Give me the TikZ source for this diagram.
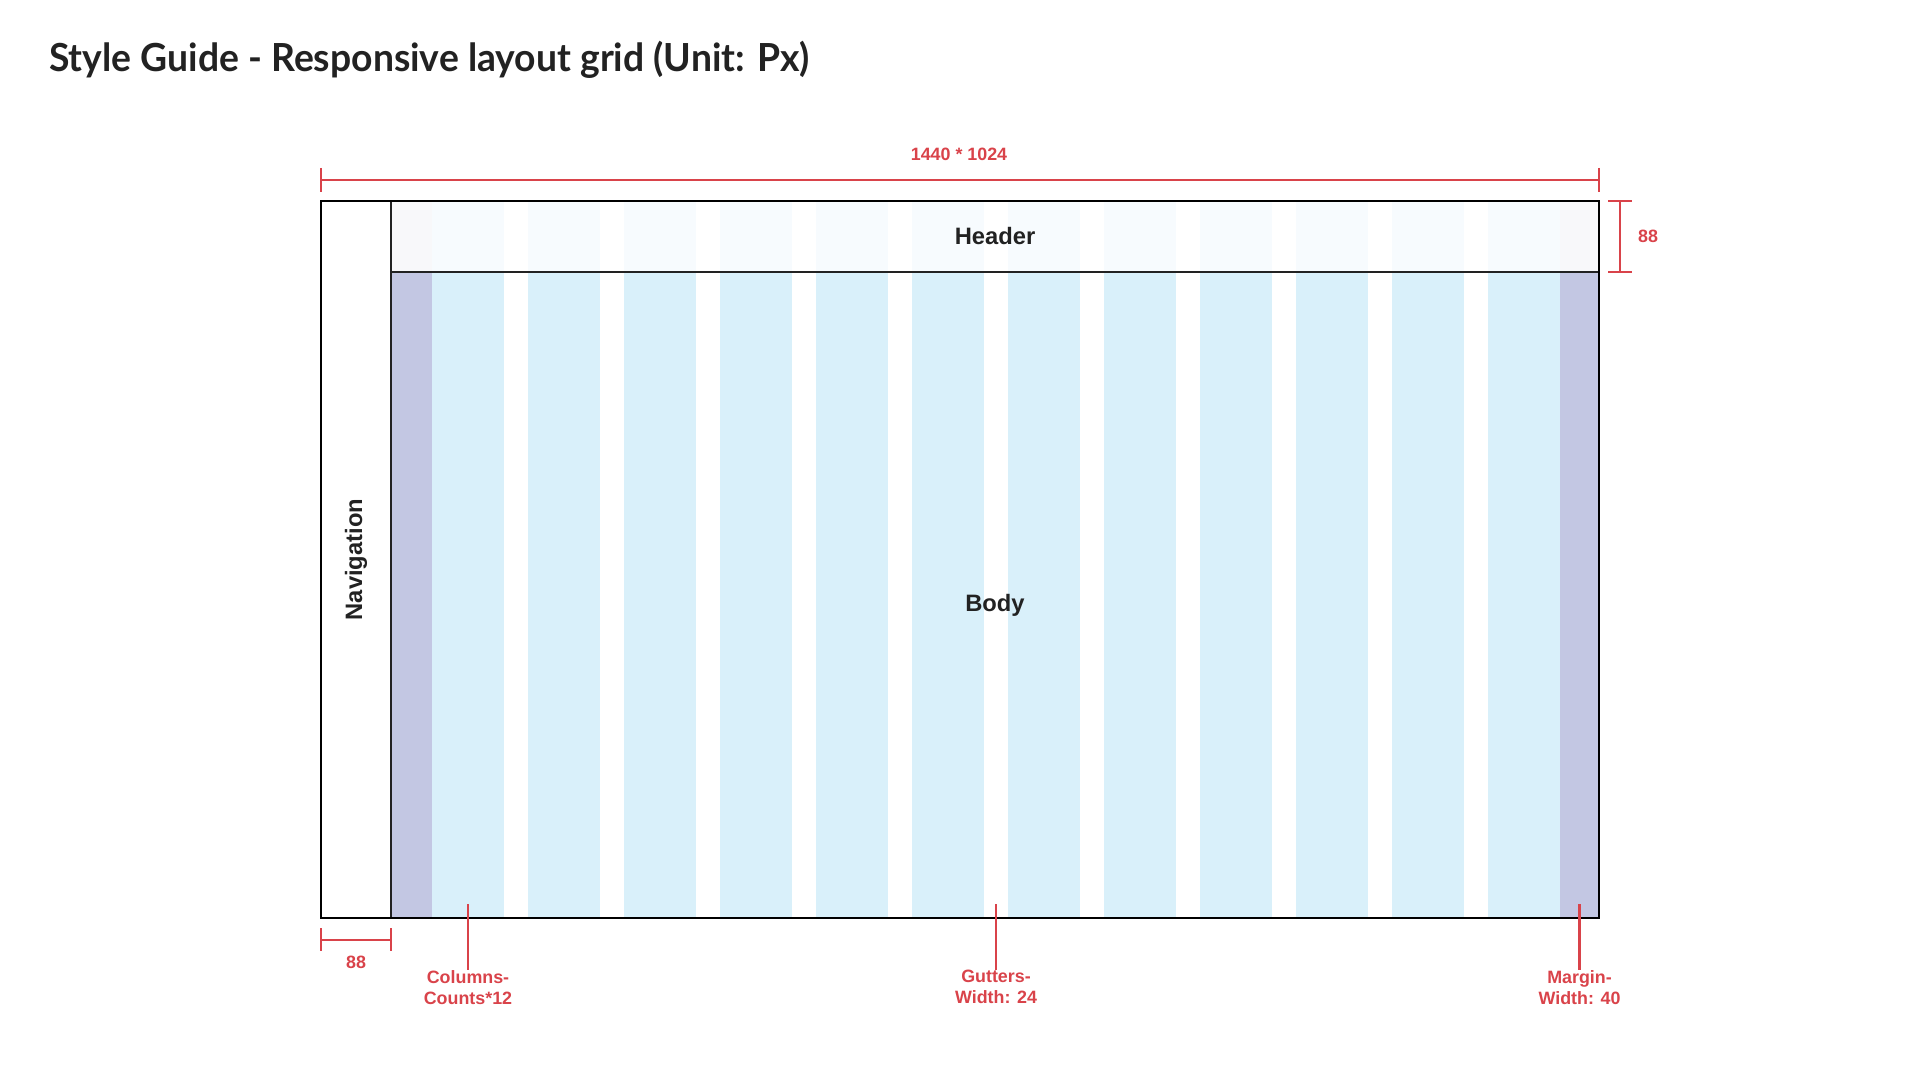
\documentclass[tikz,border=0pt]{standalone}
\usepackage{fontspec}
\setmainfont{Liberation Sans}
\newfontfamily\titlefont{Lato}
\definecolor{dimred}{HTML}{D9434A}
\definecolor{colblue}{HTML}{D9F0FA}
\definecolor{marginlav}{HTML}{C3C7E3}
\definecolor{hdrgray}{HTML}{F8F8FA}
\definecolor{hdrblue}{HTML}{F7FBFE}
\definecolor{ink}{HTML}{222222}
\begin{document}
\begin{tikzpicture}[x=0.75pt,y=-0.75pt,
  dim/.style={draw=dimred,line width=1.6pt},
  redlbl/.style={text=dimred,font=\bfseries\fontsize{13.4}{15.6}\selectfont,align=center,inner sep=0pt},
  arealbl/.style={text=ink,font=\bfseries\fontsize{17.8}{20}\selectfont,inner sep=0pt},
  frame/.style={draw=black,line width=2pt},
  divider/.style={draw=ink,line width=1.1pt}]
\useasboundingbox (0,0) rectangle (1920,1080);

% title
\node[anchor=base west,inner sep=0pt,text=ink,xscale=0.965,transform shape,font=\titlefont\bfseries\fontsize{29}{34}\selectfont] (title) at (49,72) {Style Guide - Responsive layout grid (Unit: Px)};

% body columns and side margins
\foreach \k in {0,...,11}{
  \fill[colblue] ({432+96*\k},272) rectangle ({504+96*\k},918);
  \fill[hdrblue] ({432+96*\k},201) rectangle ({504+96*\k},272);
}
\fill[marginlav] (391,272) rectangle (432,918);
\fill[marginlav] (1560,272) rectangle (1599,918);
\fill[hdrgray] (391,201) rectangle (432,272);
\fill[hdrgray] (1560,201) rectangle (1599,272);

% layout frame and dividers
\coordinate (navtop) at (391,201);
\coordinate (navbot) at (391,918);
\coordinate (hdrl) at (391,272);
\coordinate (hdrr) at (1599,272);
\draw[divider] (navtop) -- (navbot);
\draw[divider] (hdrl) -- (hdrr);
\draw[frame] (321,201) rectangle (1599,918);

% area labels
\node[arealbl] (header) at (995,236.5) {Header};
\node[arealbl] (body) at (995,605) {Body};
\node[arealbl,rotate=90] (nav) at (356,559.5) {Navigation};

% overall size
\coordinate (wl) at (321,180);
\coordinate (wr) at (1599,180);
\draw[dim] (wl) -- (wr);
\draw[dim] (321,168) -- (321,192);
\draw[dim] (1599,168) -- (1599,192);
\node[redlbl] (size) at (959,154) {1440 * 1024};

% header height
\coordinate (ht) at (1620,201);
\coordinate (hb) at (1620,272);
\draw[dim] (ht) -- (hb);
\draw[dim] (1608,201) -- (1632,201);
\draw[dim] (1608,272) -- (1632,272);
\node[redlbl] (hh) at (1648,236.5) {88};

% navigation width
\coordinate (nl) at (321,940);
\coordinate (nr) at (391,940);
\draw[dim] (nl) -- (nr);
\draw[dim] (321,928) -- (321,951);
\draw[dim] (391,928) -- (391,951);
\node[redlbl] (nw) at (356,962) {88};

% grid callouts
\node[redlbl,anchor=north] (cols) at (468,970) {Columns-\\Counts*12};
\node[redlbl,anchor=north] (gut) at (996,970) {Gutters-\\Width: 24};
\node[redlbl,anchor=north] (marg) at (1579.5,970) {Margin-\\Width: 40};
\coordinate (colsin) at (468,904);
\coordinate (gutin) at (996,904);
\coordinate (margin) at (1579.5,904);
\draw[dim] (colsin) -- (cols.north);
\draw[dim] (gutin) -- (gut.north);
\draw[dim] (margin) -- (marg.north);
\end{tikzpicture}
\end{document}
